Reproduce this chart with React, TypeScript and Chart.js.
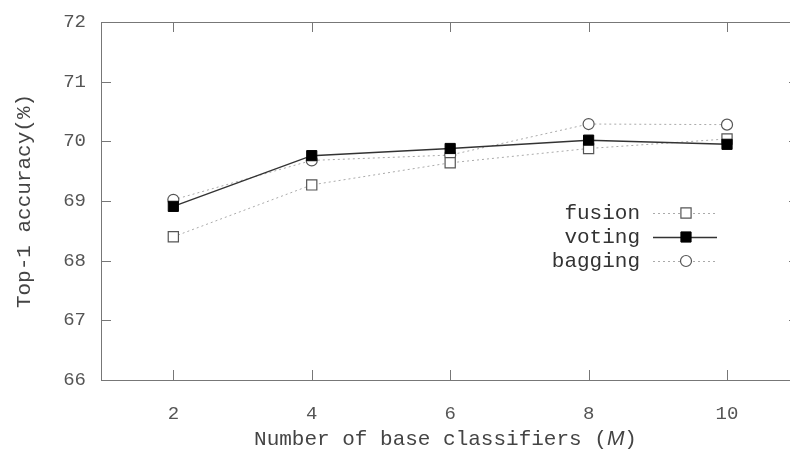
import React, { useEffect, useRef } from "react";
import { Chart, registerables } from "chart.js";

Chart.register(...registerables);

const xValues = [2, 4, 6, 8, 10];
const fusion = [68.4, 69.27, 69.64, 69.88, 70.04];
const voting = [68.91, 69.76, 69.88, 70.02, 69.95];
const bagging = [69.02, 69.68, 69.77, 70.29, 70.28];
const xTicks = [2, 4, 6, 8, 10];
const yTicks = [66, 67, 68, 69, 70, 71, 72];
const seriesNames = ["fusion", "voting", "bagging"];
const yTitle = "Top-1 accuracy(%)";
const xTitleParts = ["Number of base classifiers (", "M", ")"];

const MONO = "'Liberation Mono', 'DejaVu Sans Mono', monospace";

const framePlugin = {
  id: "frameTicks",
  beforeDatasetsDraw(chart: any) {
    const { ctx, chartArea } = chart;
    const { left, right, top, bottom } = chartArea;
    const xs = chart.scales.x;
    const ys = chart.scales.y;
    ctx.save();
    ctx.strokeStyle = "#777";
    ctx.lineWidth = 1;
    ctx.strokeRect(Math.round(left) + 0.5, Math.round(top) + 0.5, Math.round(right - left), Math.round(bottom - top));
    ctx.beginPath();
    const tl = 10;
    xTicks.forEach((v) => {
      const px = Math.round(xs.getPixelForValue(v)) + 0.5;
      ctx.moveTo(px, bottom);
      ctx.lineTo(px, bottom - tl);
      ctx.moveTo(px, top);
      ctx.lineTo(px, top + tl);
    });
    yTicks.forEach((v) => {
      const py = Math.round(ys.getPixelForValue(v)) + 0.5;
      ctx.moveTo(left, py);
      ctx.lineTo(left + tl, py);
      ctx.moveTo(right, py);
      ctx.lineTo(right - tl, py);
    });
    ctx.stroke();
    ctx.restore();
  },
  afterDraw(chart: any) {
    const { ctx, chartArea } = chart;
    ctx.save();
    // x-axis title with italic M, centred on the visible plot width
    const cx = (chartArea.left + 790) / 2;
    const ty = 439;
    ctx.fillStyle = "#444";
    ctx.textBaseline = "middle";
    const f1 = `21px ${MONO}`;
    const f2 = `italic 21px 'Liberation Sans', sans-serif`;
    ctx.font = f1;
    const w1 = ctx.measureText(xTitleParts[0]).width;
    const w3 = ctx.measureText(xTitleParts[2]).width;
    ctx.font = f2;
    const w2 = ctx.measureText(xTitleParts[1]).width;
    let x0 = cx - (w1 + w2 + w3) / 2;
    ctx.textAlign = "left";
    ctx.font = f1;
    ctx.fillText(xTitleParts[0], x0, ty);
    ctx.font = f2;
    ctx.fillText(xTitleParts[1], x0 + w1, ty);
    ctx.font = f1;
    ctx.fillText(xTitleParts[2], x0 + w1 + w2, ty);

    // legend
    const textRight = 640;
    const lx0 = 653;
    const lx1 = 717;
    const mx = 686;
    chart.data.datasets.forEach((ds: any, i: number) => {
      const y = 213 + i * 24;
      ctx.font = `21px ${MONO}`;
      ctx.fillStyle = "#333";
      ctx.textAlign = "right";
      ctx.textBaseline = "middle";
      ctx.fillText(ds.label, textRight, y);
      ctx.beginPath();
      ctx.setLineDash(ds.borderDash || []);
      ctx.strokeStyle = ds.borderColor;
      ctx.lineWidth = ds.borderWidth;
      ctx.moveTo(lx0, y + 0.5);
      ctx.lineTo(lx1, y + 0.5);
      ctx.stroke();
      ctx.setLineDash([]);
      ctx.fillStyle = ds.pointBackgroundColor;
      ctx.strokeStyle = ds.pointBorderColor;
      ctx.lineWidth = ds.pointBorderWidth;
      ctx.beginPath();
      if (ds.pointStyle === "circle") {
        ctx.arc(mx, y, ds.pointRadius, 0, Math.PI * 2);
      } else {
        const s = ds.pointRadius * Math.SQRT1_2;
        ctx.rect(mx - s, y - s, 2 * s, 2 * s);
      }
      ctx.fill();
      ctx.stroke();
    });
    ctx.restore();
  },
};

export default function App() {
  const ref = useRef<HTMLCanvasElement | null>(null);
  useEffect(() => {
    if (!ref.current) return;
    const toPts = (arr: number[]) => arr.map((v, i) => ({ x: xValues[i], y: v }));
    const chart = new Chart(ref.current, {
      type: "line",
      data: {
        datasets: [
          {
            label: seriesNames[0],
            data: toPts(fusion),
            borderColor: "#aaa",
            borderWidth: 1,
            borderDash: [2, 3],
            pointStyle: "rect",
            pointRadius: 7.2,
            pointBackgroundColor: "#fff",
            pointBorderColor: "#555",
            pointBorderWidth: 1.2,
            order: 1,
          },
          {
            label: seriesNames[1],
            data: toPts(voting),
            borderColor: "#333",
            borderWidth: 1.5,
            borderDash: [],
            pointStyle: "rect",
            pointRadius: 7.2,
            pointBackgroundColor: "#000",
            pointBorderColor: "#000",
            pointBorderWidth: 1,
            order: 0,
          },
          {
            label: seriesNames[2],
            data: toPts(bagging),
            borderColor: "#aaa",
            borderWidth: 1,
            borderDash: [2, 3],
            pointStyle: "circle",
            pointRadius: 5.5,
            pointBackgroundColor: "#fff",
            pointBorderColor: "#555",
            pointBorderWidth: 1.2,
            order: 2,
          },
        ],
      },
      options: {
        animation: false,
        responsive: false,
        maintainAspectRatio: false,
        layout: { autoPadding: false, padding: { top: 22, right: 1, left: 0, bottom: 0 } },
        plugins: { legend: { display: false }, tooltip: { enabled: false } },
        scales: {
          x: {
            type: "linear",
            min: 0.955,
            max: 11.04,
            afterBuildTicks: (s: any) => {
              s.ticks = xTicks.map((v) => ({ value: v }));
            },
            afterFit: (s: any) => {
              s.height = 72;
              s.paddingLeft = 0;
              s.paddingRight = 0;
            },
            grid: { display: false, drawTicks: false },
            border: { display: false },
            ticks: {
              padding: 23,
              color: "#555",
              font: { family: MONO, size: 19 },
            },
          },
          y: {
            min: 66,
            max: 72,
            afterBuildTicks: (s: any) => {
              s.ticks = yTicks.map((v) => ({ value: v }));
            },
            afterFit: (s: any) => {
              s.width = 101;
              s.paddingTop = 0;
              s.paddingBottom = 0;
            },
            grid: { display: false, drawTicks: false },
            border: { display: false },
            ticks: {
              padding: 15,
              color: "#555",
              font: { family: MONO, size: 19 },
            },
            title: {
              display: true,
              text: yTitle,
              color: "#444",
              font: { family: MONO, size: 21 },
              padding: { top: 12, bottom: 0 },
            },
          },
        },
      },
      plugins: [framePlugin],
    });
    return () => chart.destroy();
  }, []);
  return (
    <div style={{ position: "absolute", left: 0, top: 0, width: 790, height: 452, overflow: "hidden", background: "#fff" }}>
      <canvas ref={ref} width={800} height={452} style={{ display: "block" }} />
    </div>
  );
}
